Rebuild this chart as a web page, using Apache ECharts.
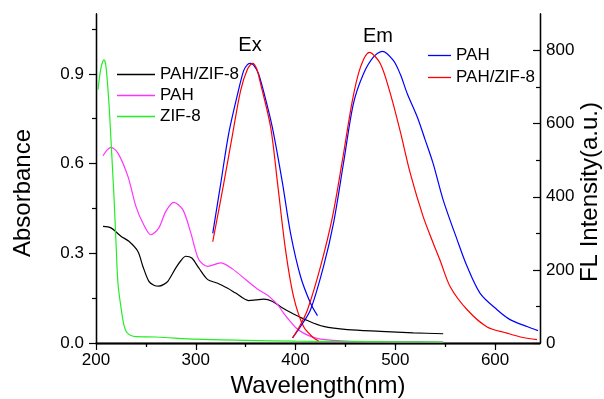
<!DOCTYPE html>
<html>
<head>
<meta charset="utf-8">
<script src="https://cdn.jsdelivr.net/npm/echarts@6/dist/echarts.min.js"></script>
<style>
html, body { margin: 0; padding: 0; background: #fff; }
#chart { width: 604px; height: 399px; }
</style>
</head>
<body>
<div id="chart"></div>
<script>
// absorbance (left axis)
const absCompositeWl = [207, 215, 225, 233, 242, 247, 253, 258, 263, 268, 272, 280, 285, 290, 296, 303, 312, 322, 332, 340, 353, 360, 368, 377, 387, 398, 412, 428, 452, 485, 518, 548]
const absComposite = [0.39, 0.385, 0.357, 0.34, 0.306, 0.256, 0.206, 0.193, 0.19, 0.196, 0.206, 0.251, 0.275, 0.29, 0.284, 0.251, 0.212, 0.2, 0.183, 0.167, 0.142, 0.144, 0.147, 0.139, 0.117, 0.097, 0.075, 0.0555, 0.0445, 0.039, 0.034, 0.031]

const absPahWl = [207, 211, 215, 222, 232, 240, 247, 255, 263, 270, 278, 287, 295, 303, 312, 325, 337, 350, 362, 372, 377, 382, 388, 394, 400, 408, 415, 425, 450, 500, 548]
const absPah = [0.626, 0.645, 0.654, 0.635, 0.557, 0.457, 0.401, 0.362, 0.385, 0.44, 0.47, 0.446, 0.368, 0.279, 0.256, 0.268, 0.247, 0.212, 0.18, 0.16, 0.145, 0.128, 0.1, 0.075, 0.052, 0.033, 0.022, 0.013, 0.006, 0.004, 0.003]

const absZifWl = [202, 205, 208, 210, 213, 215, 218, 220, 222, 225, 228, 231, 235, 240, 260, 300, 350, 400, 450, 500, 548]
const absZif = [0.847, 0.92, 0.947, 0.925, 0.8, 0.68, 0.49, 0.34, 0.2, 0.12, 0.06, 0.035, 0.025, 0.021, 0.02, 0.013, 0.009, 0.006, 0.005, 0.004, 0.003]

// fluorescence (right axis)
const exPahWl = [317, 325, 333, 342, 348, 352, 355, 358, 363, 372, 378, 387, 395, 405, 415, 422]
const exPah = [300, 436, 573, 682, 745, 762, 765, 760, 736, 645, 573, 436, 300, 182, 109, 75]

const exCompositeWl = [317, 328, 337, 345, 352, 357, 361, 365, 375, 382, 390, 398, 408, 418, 423]
const exComposite = [277, 436, 573, 691, 750, 765, 750, 709, 591, 436, 254, 127, 45, 14, 6]

const emPahWl = [397, 405, 415, 428, 438, 448, 458, 468, 478, 487, 498, 505, 512, 522, 530, 538, 548, 562, 572, 585, 602, 615, 632, 643]
const emPah = [14, 45, 91, 209, 327, 491, 655, 736, 782, 798, 773, 735, 682, 618, 555, 490, 391, 282, 209, 136, 91, 64, 45, 34]

const emCompositeWl = [397, 404, 412, 425, 437, 447, 457, 465, 474, 485, 495, 505, 515, 528, 538, 545, 555, 572, 592, 612, 628, 642]
const emComposite = [14, 45, 91, 209, 345, 500, 664, 754, 795, 764, 682, 578, 464, 345, 273, 225, 154, 91, 44, 27, 15, 9]

// ticks
const xMajor = [200, 300, 400, 500, 600]
const xMinor = [250, 350, 450, 550]
const xTop = [250, 300, 350, 400, 450, 500, 550, 600]
const absMajor = [0, 0.3, 0.6, 0.9]
const absMinor = [0.15, 0.45, 0.75, 1.05]
const flMajor = [0, 200, 400, 600, 800]
const flMinor = [100, 300, 500, 700]

const FONT = 'Liberation Sans, Arial, sans-serif'
const chart = echarts.init(document.getElementById('chart'))

const pairs = (xs, ys) => xs.map((x, i) => [x, ys[i]])

function lineSeries(name, color, xs, ys, yAxisIndex) {
	return {
		name,
		type: 'line',
		yAxisIndex,
		symbol: 'none',
		smooth: 0.3,
		lineStyle: { color, width: 1.2 },
		itemStyle: { color },
		data: pairs(xs, ys)
	}
}

// axes share the same look, only ticks/labels change
function axis(extra) {
	return Object.assign({
		type: 'value',
		splitLine: { show: false },
		axisLine: { show: true, lineStyle: { color: '#000', width: 1.3 } },
		axisTick: { show: true, length: 7, lineStyle: { color: '#000', width: 1.2 } },
		axisLabel: { show: false }
	}, extra)
}

const labelStyle = { color: '#000', fontSize: 17, fontFamily: FONT }
const legendText = { color: '#000', fontSize: 17, lineHeight: 17, fontFamily: FONT }

chart.setOption({
	animation: false,
	backgroundColor: '#fff',
	grid: { left: 96, right: 64, top: 14, bottom: 56, containLabel: false, outerBoundsMode: 'none' },
	xAxis: [
		axis({
			min: 200, max: 645, position: 'bottom',
			axisTick: { show: true, length: 7, customValues: xMajor, lineStyle: { color: '#000', width: 1.2 } },
			axisLabel: Object.assign({ show: true, margin: 9, customValues: xMajor }, labelStyle),
			name: 'Wavelength(nm)',
			nameLocation: 'middle',
			nameGap: 30,
			nameTextStyle: { color: '#000', fontSize: 24, fontFamily: FONT }
		}),
		axis({
			min: 200, max: 645, position: 'bottom',
			axisTick: { show: true, length: 4, customValues: xMinor, lineStyle: { color: '#000', width: 1.2 } }
		}),
		axis({
			min: 200, max: 645, position: 'top',
			axisTick: { show: true, inside: true, length: 3, customValues: xTop, lineStyle: { color: '#000', width: 1.2 } }
		})
	],
	yAxis: [
		axis({
			min: 0, max: 1.1, position: 'left',
			axisTick: { show: true, length: 7, customValues: absMajor, lineStyle: { color: '#000', width: 1.2 } },
			axisLabel: Object.assign({ show: true, margin: 12, customValues: absMajor, formatter: (v) => v.toFixed(1) }, labelStyle)
		}),
		axis({
			min: 0, max: 1.1, position: 'left',
			axisTick: { show: true, length: 4, customValues: absMinor, lineStyle: { color: '#000', width: 1.2 } }
		}),
		axis({
			min: 0, max: 900, position: 'right',
			axisTick: { show: true, inside: true, length: 7, customValues: flMajor, lineStyle: { color: '#000', width: 1.2 } },
			axisLabel: Object.assign({ show: true, margin: 6, customValues: flMajor }, labelStyle)
		}),
		axis({
			min: 0, max: 900, position: 'right',
			axisTick: { show: true, inside: true, length: 4, customValues: flMinor, lineStyle: { color: '#000', width: 1.2 } }
		})
	],
	legend: [
		{
			data: ['PAH/ZIF-8 abs', 'PAH abs', 'ZIF-8 abs'],
			orient: 'vertical',
			left: 112, top: 61,
			icon: 'rect',
			itemWidth: 38, itemHeight: 1.3, itemGap: 4,
			formatter: (n) => n.replace(' abs', ''),
			textStyle: legendText
		},
		{
			data: ['PAH fl', 'PAH/ZIF-8 fl'],
			orient: 'vertical',
			left: 423, top: 42,
			icon: 'rect',
			itemWidth: 23, itemHeight: 1.3, itemGap: 5,
			formatter: (n) => n.replace(' fl', ''),
			textStyle: legendText
		}
	],
	graphic: [
		{ type: 'text', x: 250, y: 45, style: { text: 'Ex', fill: '#000', font: '20px ' + FONT, align: 'center', verticalAlign: 'middle' } },
		{ type: 'text', x: 378, y: 36, style: { text: 'Em', fill: '#000', font: '20px ' + FONT, align: 'center', verticalAlign: 'middle' } },
		{ type: 'text', x: 23, y: 193, rotation: Math.PI / 2, style: { text: 'Absorbance', fill: '#000', font: '24px ' + FONT, align: 'center', verticalAlign: 'middle' } },
		{ type: 'text', x: 590, y: 192, rotation: Math.PI / 2, style: { text: 'FL Intensity(a.u.)', fill: '#000', font: '24px ' + FONT, align: 'center', verticalAlign: 'middle' } }
	],
	series: [
		lineSeries('PAH/ZIF-8 abs', '#000000', absCompositeWl, absComposite, 0),
		lineSeries('PAH abs', '#ff33ff', absPahWl, absPah, 0),
		lineSeries('ZIF-8 abs', '#22ee22', absZifWl, absZif, 0),
		lineSeries('PAH fl', '#0000ff', exPahWl, exPah, 2),
		lineSeries('PAH/ZIF-8 fl', '#ff0000', exCompositeWl, exComposite, 2),
		Object.assign(lineSeries('PAH fl', '#0000ff', emPahWl, emPah, 2), { id: 'emPah' }),
		Object.assign(lineSeries('PAH/ZIF-8 fl', '#ff0000', emCompositeWl, emComposite, 2), { id: 'emComposite' })
	]
})
</script>
</body>
</html>
